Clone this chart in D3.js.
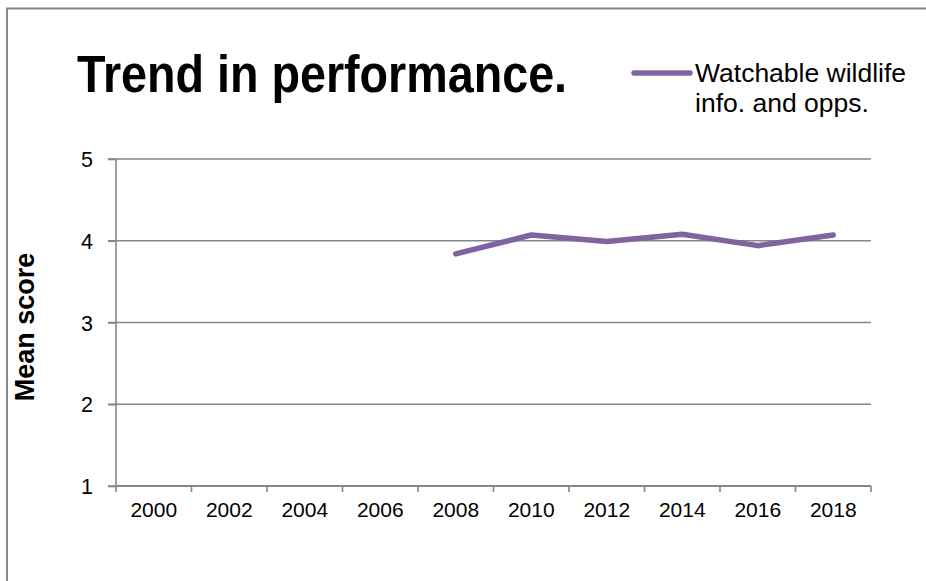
<!DOCTYPE html>
<html>
<head>
<meta charset="utf-8">
<script src="https://cdn.jsdelivr.net/npm/d3@7"></script>
<style>
  html, body { margin: 0; padding: 0; background: #fff; }
  svg { display: block; font-family: "Liberation Sans", Arial, Helvetica, sans-serif; }
</style>
</head>
<body>
<svg id="chart" width="926" height="581"></svg>
<script>
// chart data
const years = ['2000', '2002', '2004', '2006', '2008', '2010', '2012', '2014', '2016', '2018']
const seriesName = ['Watchable wildlife', 'info. and opps.']
const seriesYears = ['2008', '2010', '2012', '2014', '2016', '2018']
const seriesValues = [3.84, 4.07, 3.99, 4.08, 3.94, 4.07]
const yTicks = [1, 2, 3, 4, 5]

const svg = d3.select('#chart')
const gray = '#868686'
const purple = '#8064A2'

// frame around the chart (right and bottom edges fall off the canvas)
svg.append('rect')
  .attr('x', 7)
  .attr('y', 8.5)
  .attr('width', 940)
  .attr('height', 600)
  .attr('fill', 'none')
  .attr('stroke', gray)
  .attr('stroke-width', 2)

const plot = { left: 116, right: 871, top: 159, bottom: 486 }

const xScale = d3.scaleBand()
  .domain(years)
  .range([plot.left, plot.right])

const yScale = d3.scaleLinear()
  .domain([1, 5])
  .range([plot.bottom, plot.top])

// horizontal gridlines, running over the left ticks
svg.append('g')
  .selectAll('line')
  .data(yTicks)
  .join('line')
  .attr('x1', plot.left - 8)
  .attr('x2', plot.right)
  .attr('y1', d => yScale(d))
  .attr('y2', d => yScale(d))
  .attr('stroke', gray)
  .attr('stroke-width', 1.6)

// y axis
const yAxis = svg.append('g')
  .attr('class', 'y axis')
  .attr('transform', `translate(${plot.left},0)`)
  .call(d3.axisLeft(yScale).tickValues(yTicks).tickSize(8).tickPadding(15).tickFormat(d3.format('d')))
yAxis.select('.domain').attr('stroke', gray).attr('stroke-width', 1.6).attr('d', `M0,${plot.top}V${plot.bottom}`)
yAxis.selectAll('.tick line').attr('stroke', gray).attr('stroke-width', 1.6)
yAxis.selectAll('.tick text')
  .attr('font-size', 21.5)
  .attr('fill', '#000')
  .attr('dy', '0.35em')
  .attr('font-family', '"Liberation Sans", Arial, sans-serif')

// x axis: ticks sit on the band boundaries, labels in the band centres
const xAxis = svg.append('g')
  .attr('class', 'x axis')
  .attr('transform', `translate(0,${plot.bottom})`)
xAxis.append('line')
  .attr('x1', plot.left)
  .attr('x2', plot.right)
  .attr('stroke', gray)
  .attr('stroke-width', 2)
const bounds = years.map(y => xScale(y)).concat([plot.right])
xAxis.selectAll('line.tick-mark')
  .data(bounds)
  .join('line')
  .attr('class', 'tick-mark')
  .attr('x1', d => d)
  .attr('x2', d => d)
  .attr('y1', 0)
  .attr('y2', 6)
  .attr('stroke', gray)
  .attr('stroke-width', 1.6)
xAxis.selectAll('text')
  .data(years)
  .join('text')
  .attr('x', d => xScale(d) + xScale.bandwidth() / 2)
  .attr('y', 31)
  .attr('text-anchor', 'middle')
  .attr('font-size', 21)
  .attr('fill', '#000')
  .text(d => d)

// series line
const points = seriesYears.map((yr, i) => ({ year: yr, value: seriesValues[i] }))
const line = d3.line()
  .x(d => xScale(d.year) + xScale.bandwidth() / 2)
  .y(d => yScale(d.value))
svg.append('path')
  .datum(points)
  .attr('d', line)
  .attr('fill', 'none')
  .attr('stroke', purple)
  .attr('stroke-width', 5.5)
  .attr('stroke-linecap', 'round')
  .attr('stroke-linejoin', 'round')

// title (source font is a little narrower than Liberation Sans)
svg.append('text')
  .attr('transform', 'translate(77,92) scale(0.915,1)')
  .attr('font-size', 51)
  .attr('font-weight', 'bold')
  .attr('fill', '#000')
  .text('Trend in performance.')

// legend
svg.append('line')
  .attr('x1', 634)
  .attr('x2', 690)
  .attr('y1', 73)
  .attr('y2', 73)
  .attr('stroke', purple)
  .attr('stroke-width', 5.5)
  .attr('stroke-linecap', 'round')
svg.append('text')
  .attr('x', 695)
  .attr('y', 82)
  .attr('font-size', 26.5)
  .attr('fill', '#000')
  .selectAll('tspan')
  .data(seriesName)
  .join('tspan')
  .attr('x', 695)
  .attr('dy', (d, i) => i === 0 ? 0 : 30)
  .text(d => d)

// y axis title
svg.append('text')
  .attr('transform', 'translate(33.5,327) rotate(-90)')
  .attr('text-anchor', 'middle')
  .attr('font-size', 27)
  .attr('font-weight', 'bold')
  .attr('fill', '#000')
  .text('Mean score')
</script>
</body>
</html>
